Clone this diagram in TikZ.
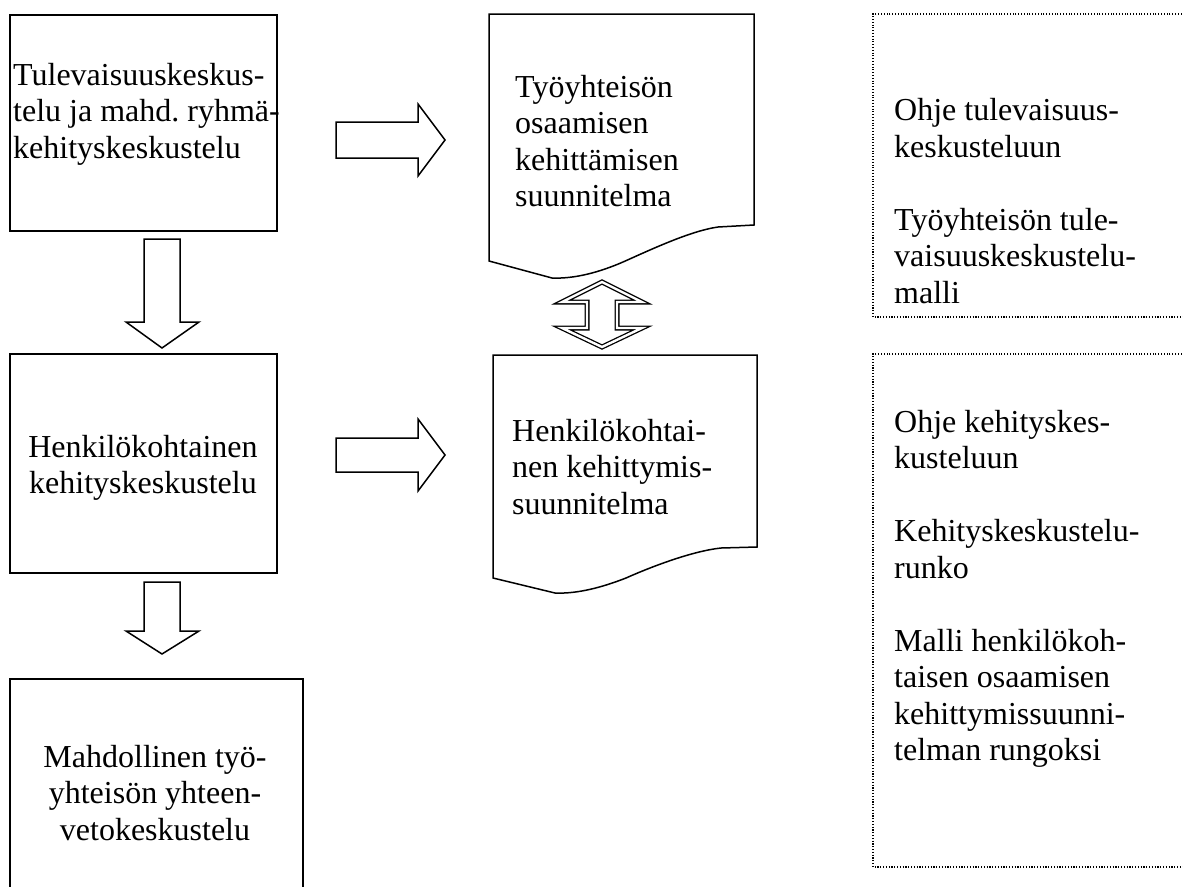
\documentclass[tikz,border=0pt]{standalone}
\usepackage{fontspec}
\setmainfont{Liberation Serif}
\frenchspacing
\begin{document}
\begin{tikzpicture}[x=1pt,y=-1pt,line join=miter,
  box/.style={draw,line width=1.5pt,inner sep=0pt},
  blk/.style={draw,line width=1.5pt,fill=white},
  dbl/.style={draw,line width=1.3pt,double,double distance=2.4pt},
  dotbox/.style={draw,line width=1.1pt,dash pattern=on 1.1pt off 1.7pt},
  txt/.style={inner sep=0pt,font=\fontsize{32}{36.5}\selectfont}]
\clip (0,0) rectangle (1183,886);
\fill[white] (0,0) rectangle (1183,886);
% process boxes
\node[box,anchor=north west,minimum width=267pt,minimum height=216pt] (b1) at (9,14) {};
\node[box,anchor=north west,minimum width=267pt,minimum height=219pt] (b2) at (9,353) {};
\node[box,anchor=north west,minimum width=293pt,minimum height=260pt] (b3) at (9,678) {};
% documents
\draw[box] (489,14) -- (754,14) -- (754,225) -- (718,227)
  .. controls (690,231) and (650,250) .. (623,262)
  .. controls (600,272) and (575,279) .. (552,278) -- (489,261) -- cycle;
\draw[box] (493,355) -- (757,355) -- (757,547) -- (721,548)
  .. controls (693,551) and (653,566) .. (626,578)
  .. controls (603,587) and (578,594) .. (555,593) -- (493,578) -- cycle;
% dotted boxes
\draw[dotbox] (1190,14) -- (873,14) -- (873,317) -- (1190,317);
\draw[dotbox] (1190,354) -- (873,354) -- (873,867) -- (1190,867);
% block arrows
\draw[blk] (144,239) -- (180,239) -- (180,322) -- (199,322) -- (162,348) -- (126,322) -- (144,322) -- cycle;
\draw[blk] (144,582) -- (180,582) -- (180,631) -- (199,631) -- (162,654) -- (126,631) -- (144,631) -- cycle;
\draw[blk] (336,122) -- (418,122) -- (418,104) -- (445,140) -- (418,176) -- (418,158) -- (336,158) -- cycle;
\draw[blk] (336,438) -- (418,438) -- (418,419) -- (445,455) -- (418,491) -- (418,472) -- (336,472) -- cycle;
\draw[dbl] (602,282) -- (642,302) -- (617,302) -- (617,328) -- (642,328) -- (602,347)
  -- (562,328) -- (587,328) -- (587,302) -- (562,302) -- cycle;
% texts
\node[txt,align=left,anchor=west] (t1) at (13,114) {Tulevaisuuskeskus-\\telu ja mahd. ryhmä-\\kehityskeskustelu};
\node[txt,align=center] (t2) at (143,468) {Henkilökohtainen\\kehityskeskustelu};
\node[txt,align=center] (t3) at (155,793) {Mahdollinen työ-\\yhteisön yhteen-\\vetokeskustelu};
\node[txt,align=left,anchor=west] (t4) at (515,141) {Työyhteisön\\osaamisen\\kehittämisen\\suunnitelma};
\node[txt,align=left,anchor=west] (t5) at (512,467) {Henkilökohtai-\\nen kehittymis-\\suunnitelma};
\node[txt,align=left,anchor=west] (t6) at (894,201) {Ohje tulevaisuus-\\keskusteluun\\[36.5pt]Työyhteisön tule-\\vaisuuskeskustelu-\\malli};
\node[txt,align=left,anchor=west] (t7) at (894,589) {Ohje kehityskes-\\kusteluun\\[36.5pt]Kehityskeskustelu-\\runko\\[36.5pt]Malli henkilökoh-\\taisen osaamisen\\kehittymissuunni-\\telman rungoksi};
\end{tikzpicture}
\end{document}
